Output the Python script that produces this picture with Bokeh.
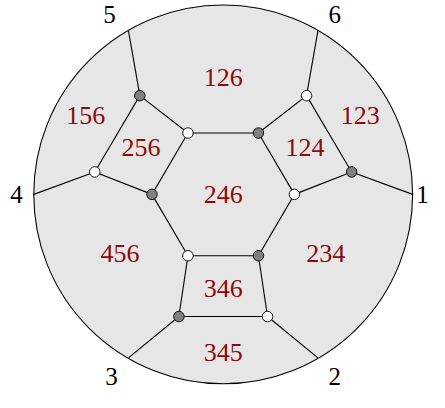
from bokeh.plotting import figure
from bokeh.models import ColumnDataSource
from bokeh.core.properties import value
from bokeh.embed import file_html
from bokeh.resources import INLINE

# ---- data (unit circle coordinates) ----
vertex_x = [0.376, 0.186, -0.186, -0.376, -0.186, 0.186,
            0.678, 0.440, -0.440, -0.678, -0.234, 0.234]
vertex_y = [0.0, 0.325, 0.325, 0.0, -0.325, -0.325,
            0.119, 0.523, 0.523, 0.119, -0.647, -0.647]
vertex_color = ["white", "gray", "white", "gray", "white", "gray",
                "gray", "white", "gray", "white", "gray", "white"]

boundary_x = [1.0, 0.5, -0.5, -1.0, -0.5, 0.5]
boundary_y = [0.0, -0.866, -0.866, 0.0, 0.866, 0.866]
boundary_names = ["1", "2", "3", "4", "5", "6"]
boundary_label_x = [1.052, 0.589, -0.590, -1.091, -0.600, 0.589]
boundary_label_y = [0.0, -0.966, -0.966, 0.0, 0.953, 0.953]

# inner edges (vertex index pairs)
edges = [(0, 1), (1, 2), (2, 3), (3, 4), (4, 5), (5, 0),
         (6, 0), (6, 7), (7, 1), (8, 2), (8, 9), (9, 3),
         (10, 4), (10, 11), (11, 5)]
# boundary point index -> vertex index
boundary_edges = [(0, 6), (1, 11), (2, 10), (3, 9), (4, 8), (5, 7)]

region_labels = ["126", "156", "123", "256", "124", "246", "456", "234", "346", "345"]
region_x = [0.0, -0.726, 0.724, -0.434, 0.432, 0.0, -0.545, 0.542, 0.0, 0.0]
region_y = [0.620, 0.420, 0.420, 0.250, 0.250, 0.0, -0.313, -0.313, -0.500, -0.839]

# ---- figure ----
W, H = 429, 392
p = figure(width=W, height=H, output_backend="svg", toolbar_location=None,
           x_range=(-1.1756, 1.0891), y_range=(-1.0494, 1.0270),
           x_axis_type=None, y_axis_type=None,
           min_border=0, min_border_left=0, min_border_right=0,
           min_border_top=0, min_border_bottom=0)
p.grid.visible = False
p.outline_line_color = None
p.background_fill_color = "white"
p.border_fill_color = "white"

p.circle(x=[0], y=[0], radius=1.0, fill_color="#e6e6e6",
         line_color="black", line_width=1.1)

xs, ys = [], []
for a, b in edges:
    xs.append([vertex_x[a], vertex_x[b]])
    ys.append([vertex_y[a], vertex_y[b]])
for bi, vi in boundary_edges:
    xs.append([boundary_x[bi], vertex_x[vi]])
    ys.append([boundary_y[bi], vertex_y[vi]])
p.multi_line(xs=xs, ys=ys, line_color="black", line_width=1.1)

vsrc = ColumnDataSource(dict(x=vertex_x, y=vertex_y, c=vertex_color))
p.scatter(x="x", y="y", source=vsrc, size=10.5, fill_color="c",
          line_color="black", line_width=0.9)

p.text(x=region_x, y=region_y, text=region_labels,
       text_font=value("Liberation Serif"), text_font_size="26px",
       text_color="#8b0a0a", text_align="center", text_baseline="middle")

p.text(x=boundary_label_x, y=boundary_label_y, text=boundary_names,
       text_font=value("Liberation Serif"), text_font_size="25px",
       text_color="black", text_align="center", text_baseline="middle")

open("out.html", "w").write(file_html(p, INLINE))
